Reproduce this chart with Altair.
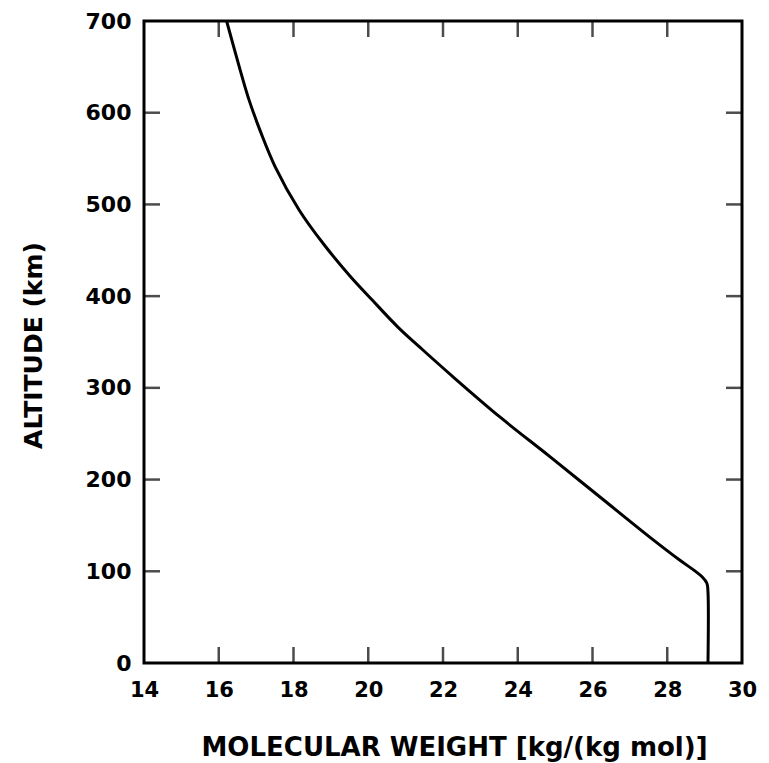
import altair as alt
import pandas as pd

# Curve: altitude (km) vs molecular weight
altitude = [0, 77, 87, 94, 101, 112, 137, 181, 225, 268, 312, 341, 366, 396,
            422, 456, 494, 541, 578, 614, 647, 700]
mol_weight = [29.09, 29.09, 29.06, 28.93, 28.72, 28.34, 27.54, 26.20, 24.86, 23.53,
              22.27, 21.47, 20.80, 20.10, 19.51, 18.82, 18.15, 17.51, 17.13, 16.81,
              16.57, 16.21]

x_ticks = [14, 16, 18, 20, 22, 24, 26, 28, 30]
y_ticks = [0, 100, 200, 300, 400, 500, 600, 700]
x_inner = [16, 18, 20, 22, 24, 26, 28]
y_inner = [100, 200, 300, 400, 500, 600]

curve = pd.DataFrame({"alt": altitude, "mw": mol_weight})
xt = pd.DataFrame({"v": x_inner})
yt = pd.DataFrame({"v": y_inner})

FONT = "DejaVu Sans"
xscale = alt.Scale(domain=[14, 30], nice=False, zero=False)
yscale = alt.Scale(domain=[0, 700], nice=False)

line = alt.Chart(curve).mark_line(color="black", strokeWidth=3, strokeJoin="round",
                                  interpolate="catmull-rom").encode(
    x=alt.X("mw:Q", scale=xscale,
            axis=alt.Axis(values=x_ticks, title="MOLECULAR WEIGHT [kg/(kg mol)]",
                          domain=False, ticks=False, grid=False, labelFlush=False,
                          labelFont=FONT, labelFontSize=21, labelFontWeight="bold",
                          labelColor="black", labelPadding=16,
                          titleFont=FONT, titleFontSize=26, titleFontWeight="bold",
                          titleColor="black", titleX=310, titleY=84,
                          titleBaseline="middle")),
    y=alt.Y("alt:Q", scale=yscale,
            axis=alt.Axis(values=y_ticks, title="ALTITUDE (km)",
                          domain=False, ticks=False, grid=False, labelFlush=False,
                          labelFont=FONT, labelFontSize=22, labelFontWeight="bold",
                          labelColor="black", labelPadding=13,
                          titleFont=FONT, titleFontSize=25, titleFontWeight="bold",
                          titleColor="black", titleX=-111, titleY=324,
                          titleBaseline="middle")),
    order="alt:Q",
)

bottom_ticks = alt.Chart(xt).mark_tick(orient="vertical", color="black", thickness=2.5, size=16).encode(
    x=alt.X("v:Q", scale=xscale), y=alt.datum(0), yOffset=alt.value(-8))
top_ticks = alt.Chart(xt).mark_tick(orient="vertical", color="black", thickness=2.5, size=16).encode(
    x=alt.X("v:Q", scale=xscale), y=alt.datum(700), yOffset=alt.value(8))
left_ticks = alt.Chart(yt).mark_tick(orient="horizontal", color="black", thickness=2.5, size=16).encode(
    y=alt.Y("v:Q", scale=yscale), x=alt.datum(14), xOffset=alt.value(8))
right_ticks = alt.Chart(yt).mark_tick(orient="horizontal", color="black", thickness=2.5, size=16).encode(
    y=alt.Y("v:Q", scale=yscale), x=alt.datum(30), xOffset=alt.value(-8))

chart = alt.layer(line, bottom_ticks, top_ticks, left_ticks, right_ticks).properties(
    width=598, height=642,
    background="white",
    autosize=alt.AutoSizeParams(type="none"),
    padding={"left": 144, "top": 21, "right": 27, "bottom": 100},
).configure_view(stroke="black", strokeWidth=3)

chart.save("out.html", embed_options={"renderer": "svg", "actions": False})
